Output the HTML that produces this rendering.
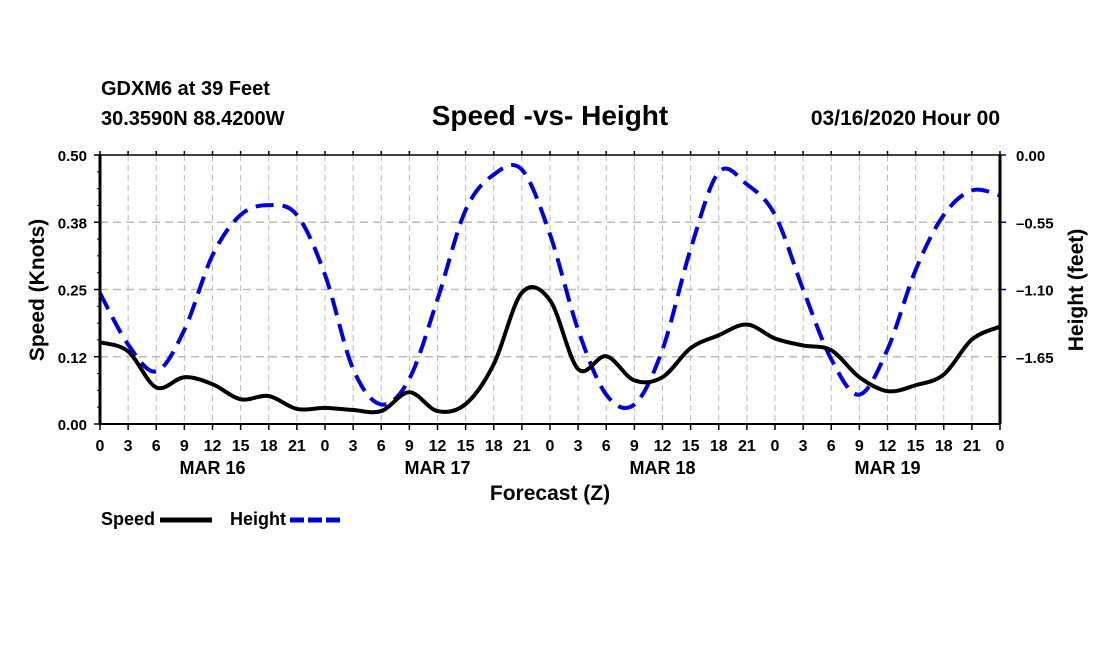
<!DOCTYPE html>
<html><head><meta charset="utf-8"><style>
body{margin:0;background:#fff;}
svg text{font-family:"Liberation Sans",sans-serif;font-weight:bold;fill:#000;}
</style></head><body>
<svg width="1100" height="650" viewBox="0 0 1100 650" xmlns="http://www.w3.org/2000/svg">
<rect x="0" y="0" width="1100" height="650" fill="#fff"/>
<text x="101" y="95" font-size="20">GDXM6 at 39 Feet</text>
<text x="101" y="125" font-size="20">30.3590N 88.4200W</text>
<text x="550" y="125" font-size="28" text-anchor="middle">Speed -vs- Height</text>
<text x="1000" y="125" font-size="21" text-anchor="end">03/16/2020 Hour 00</text>
<g id="grid"></g>
<g id="series"></g>
<g id="axes"></g>
<text x="44" y="290" font-size="21" text-anchor="middle" transform="rotate(-90 44 290)">Speed (Knots)</text>
<text x="1083" y="290" font-size="21" text-anchor="middle" transform="rotate(-90 1083 290)">Height (feet)</text>
<text x="550" y="500" font-size="21" text-anchor="middle">Forecast (Z)</text>
<g>
<text x="101" y="525" font-size="18">Speed</text>
<line x1="160" y1="520" x2="212" y2="520" stroke="#000" stroke-width="5"/>
<text x="230" y="525" font-size="18">Height</text>
<line x1="290" y1="520" x2="342" y2="520" stroke="#0000dd" stroke-width="5" stroke-dasharray="14,4"/>
</g>
</svg>
<script>
const hours=[0,3,6,9,12,15,18,21,24,27,30,33,36,39,42,45,48,51,54,57,60,63,66,69,72,75,78,81,84,87,90,93,96];
const hourLabels=["0","3","6","9","12","15","18","21","0","3","6","9","12","15","18","21","0","3","6","9","12","15","18","21","0","3","6","9","12","15","18","21","0"];
const dayLabels=["MAR 16","MAR 17","MAR 18","MAR 19"];
const dayHours=[12,36,60,84];
const speedTicks=[0,0.125,0.25,0.375,0.5];
const speedTickLabels=["0.00","0.12","0.25","0.38","0.50"];
const heightTicks=[0,-0.55,-1.1,-1.65];
const heightTickLabels=["0.00","\u20130.55","\u20131.10","\u20131.65"];
const speed=[0.152,0.135,0.068,0.087,0.074,0.046,0.052,0.028,0.030,0.026,0.024,0.059,0.024,0.037,0.111,0.244,0.230,0.102,0.126,0.081,0.087,0.141,0.165,0.185,0.159,0.146,0.137,0.087,0.061,0.072,0.092,0.157,0.181];
const height=[-1.13,-1.55,-1.77,-1.43,-0.82,-0.49,-0.41,-0.49,-0.98,-1.75,-2.04,-1.83,-1.18,-0.45,-0.16,-0.12,-0.65,-1.43,-1.96,-2.04,-1.59,-0.77,-0.14,-0.24,-0.49,-1.10,-1.67,-1.96,-1.59,-0.94,-0.49,-0.29,-0.33];
const L=100,R=1000,T=155,B=424;
const xs=h=>L+h/96*(R-L);
const ys=v=>B-v/0.5*(B-T);
const yh=v=>T+(-v)/2.2*(B-T);
const NS="http://www.w3.org/2000/svg";
function mk(tag,attrs,parent,text){const e=document.createElementNS(NS,tag);for(const k in attrs)e.setAttribute(k,attrs[k]);if(text!==undefined)e.textContent=text;parent.appendChild(e);return e;}
const grid=document.getElementById('grid'),axes=document.getElementById('axes'),series=document.getElementById('series');
hours.forEach((h,i)=>{
 if(i>0&&i<hours.length-1){const g=mk('line',{x1:xs(h),x2:xs(h),y1:T,y2:B,stroke:'#bbb','stroke-width':1,'stroke-dasharray':'6,4'},grid);
 
 }
 mk('line',{x1:xs(h),x2:xs(h),y1:B,y2:B+6,stroke:'#000','stroke-width':1.5},axes);
 mk('line',{x1:xs(h),x2:xs(h),y1:T-4,y2:T,stroke:'#000','stroke-width':1.5},axes);
 const t=mk('text',{x:xs(h),y:B+27,'font-size':16,'text-anchor':'middle'},axes,hourLabels[i]);
 
 
});
dayHours.forEach((h,i)=>{const t=mk('text',{x:xs(h),y:474,'font-size':18,'text-anchor':'middle'},axes,dayLabels[i]);
 
 });
speedTicks.forEach((v,i)=>{
 if(i>0&&i<speedTicks.length-1){const g=mk('line',{x1:L,x2:R,y1:ys(v),y2:ys(v),stroke:'#bbb','stroke-width':1.5,'stroke-dasharray':'8,5'},grid);
 
 }
 mk('line',{x1:L-6,x2:L,y1:ys(v),y2:ys(v),stroke:'#000','stroke-width':1.5},axes);
 if(i<speedTicks.length-1){for(let k=1;k<4;k++){const yy=ys(v+0.125*k/4);mk('line',{x1:L-3,x2:L,y1:yy,y2:yy,stroke:'#000','stroke-width':1},axes);}}
 const t=mk('text',{x:L-13,y:ys(v)+6,'font-size':15,'text-anchor':'end'},axes,speedTickLabels[i]);
 
 
});
heightTicks.forEach((v,i)=>{
 mk('line',{x1:R,x2:R+6,y1:yh(v),y2:yh(v),stroke:'#00007a','stroke-width':1.5},axes);
 const t=mk('text',{x:R+16,y:yh(v)+6,'font-size':15},axes,heightTickLabels[i]);
 
 
});
mk('line',{x1:L,x2:R,y1:T,y2:T,stroke:'#000','stroke-width':1.5},axes);
mk('line',{x1:L,x2:R,y1:B,y2:B,stroke:'#000','stroke-width':2},axes);
mk('line',{x1:L,x2:L,y1:T,y2:B,stroke:'#000','stroke-width':3},axes);
mk('line',{x1:R,x2:R,y1:T,y2:B,stroke:'#000','stroke-width':3},axes);
function spline(pts){let d=`M${pts[0][0]},${pts[0][1]}`;for(let i=0;i<pts.length-1;i++){const p0=pts[Math.max(0,i-1)],p1=pts[i],p2=pts[i+1],p3=pts[Math.min(pts.length-1,i+2)];
 d+=` C${p1[0]+(p2[0]-p0[0])/6},${p1[1]+(p2[1]-p0[1])/6} ${p2[0]-(p3[0]-p1[0])/6},${p2[1]-(p3[1]-p1[1])/6} ${p2[0]},${p2[1]}`;}return d;}
const hp=mk('path',{d:spline(hours.map((h,i)=>[xs(h),yh(height[i])])),fill:'none',stroke:'#0000dd','stroke-width':4,'stroke-dasharray':'18,9'},series);


const sp=mk('path',{d:spline(hours.map((h,i)=>[xs(h),ys(speed[i])])),fill:'none',stroke:'#000','stroke-width':4},series);


</script>
</body></html>
